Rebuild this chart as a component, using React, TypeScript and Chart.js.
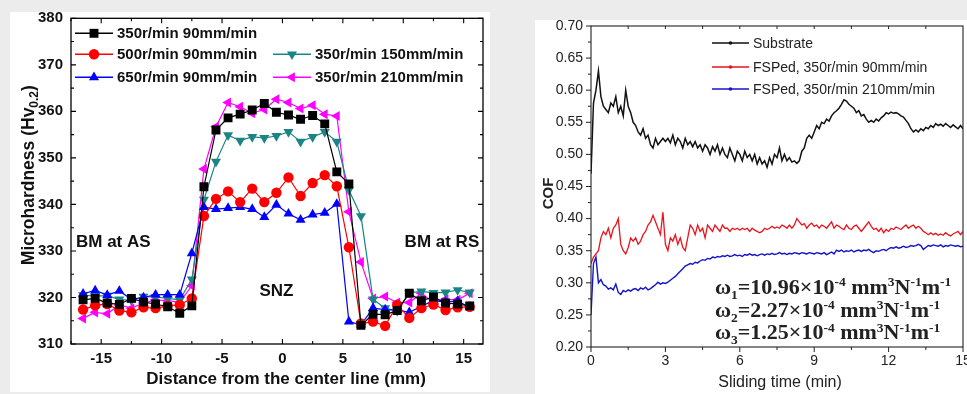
import React, { useEffect, useRef } from "react";
import { Chart, registerables } from "chart.js";

Chart.register(...registerables);

// ---------------- Left panel: microhardness profile ----------------
const POSITIONS_MM = [
  -16.5, -15.5, -14.5, -13.5, -12.5, -11.5, -10.5, -9.5, -8.5, -7.5, -6.5,
  -5.5, -4.5, -3.5, -2.5, -1.5, -0.5, 0.5, 1.5, 2.5, 3.5, 4.5,
  5.5, 6.5, 7.5, 8.5, 9.5, 10.5, 11.5, 12.5, 13.5, 14.5, 15.5,
];
const HV_350_90 = [
  319.5, 319.8, 318.8, 318.5, 319.8, 319.0, 318.6, 318.0, 316.6, 318.2, 343.8,
  356.0, 358.6, 359.4, 360.3, 361.7, 359.8, 359.2, 358.3, 359.1, 357.3, 347.0,
  344.4, 314.0, 316.4, 316.3, 317.2, 320.9, 319.3, 320.1, 318.8, 318.6, 318.2,
];
const HV_500_90 = [
  317.4, 318.3, 318.6, 317.2, 316.8, 317.9, 317.7, 318.2, 318.4, 319.8, 337.5,
  341.2, 342.8, 340.5, 343.4, 340.5, 342.5, 345.8, 341.8, 344.6, 346.3, 343.9,
  330.8, 314.4, 314.8, 313.9, 318.4, 315.6, 317.7, 318.5, 317.3, 317.9, 318.0,
];
const HV_650_90 = [
  320.8, 321.5, 320.5, 321.4, 319.6, 320.0, 320.6, 320.6, 320.6, 329.5, 339.4,
  339.0, 339.2, 339.4, 339.0, 337.3, 339.9, 338.0, 336.7, 337.8, 338.2, 340.1,
  314.8, 314.1, 317.7, 317.4, 317.3, 316.8, 318.1, 319.3, 319.0, 319.2, 317.9,
];
const HV_350_150 = [
  320.5, 320.3, 320.4, 319.6, 319.4, 320.2, 320.1, 319.8, 319.5, 323.9, 341.0,
  349.2, 354.9, 353.7, 354.5, 354.3, 354.7, 355.6, 353.5, 354.5, 355.6, 353.5,
  343.1, 337.5, 319.6, 317.7, 317.1, 321.0, 321.3, 321.0, 321.1, 321.6, 321.1,
];
const HV_350_210 = [
  315.5, 316.8, 316.5, 318.4, 317.7, 318.8, 319.5, 319.3, 319.0, 322.5, 347.6,
  356.7, 361.9, 361.0, 359.6, 360.4, 362.6, 361.9, 360.6, 361.3, 359.4, 359.0,
  338.4, 327.6, 319.8, 320.2, 318.9, 318.9, 320.9, 318.9, 319.6, 319.5, 320.9,
];
const HV_LABELS = [
  "350r/min 90mm/min",
  "500r/min 90mm/min",
  "650r/min 90mm/min",
  "350r/min 150mm/min",
  "350r/min 210mm/min",
];
const HV_TICKS_X = [-15, -10, -5, 0, 5, 10, 15];
const HV_TICKS_Y = [310, 320, 330, 340, 350, 360, 370, 380];

// ---------------- Right panel: coefficient of friction ----------------
const COF_STEP_MIN = 0.1;
const COF_SUBSTRATE = [
  0.47, 0.58, 0.6, 0.63, 0.59, 0.575, 0.57, 0.565, 0.58, 0.575,
  0.59, 0.565, 0.575, 0.56, 0.6, 0.575, 0.565, 0.55, 0.545, 0.535,
  0.53, 0.54, 0.525, 0.53, 0.515, 0.51, 0.525, 0.515, 0.52, 0.525,
  0.52, 0.525, 0.518, 0.53, 0.515, 0.525, 0.52, 0.51, 0.525, 0.515,
  0.52, 0.512, 0.52, 0.51, 0.515, 0.505, 0.515, 0.51, 0.5, 0.512,
  0.505, 0.515, 0.5, 0.51, 0.5, 0.495, 0.51, 0.5, 0.49, 0.505,
  0.5, 0.49, 0.505, 0.495, 0.5, 0.49, 0.5, 0.485, 0.495, 0.485,
  0.49, 0.48, 0.495, 0.485, 0.5, 0.495, 0.51, 0.49, 0.5, 0.49,
  0.495, 0.488, 0.49, 0.486, 0.49, 0.505, 0.51, 0.525, 0.53, 0.525,
  0.535, 0.545, 0.54, 0.55, 0.548, 0.555, 0.552, 0.56, 0.565, 0.568,
  0.572, 0.578, 0.585, 0.583, 0.578, 0.575, 0.572, 0.565, 0.568, 0.56,
  0.562, 0.555, 0.55, 0.553, 0.55, 0.555, 0.552, 0.557, 0.56, 0.565,
  0.563, 0.566, 0.564, 0.565, 0.563, 0.56, 0.558, 0.553, 0.548, 0.54,
  0.535, 0.538, 0.535, 0.54, 0.537, 0.542, 0.54, 0.545, 0.542, 0.548,
  0.545, 0.547, 0.544, 0.548, 0.545, 0.542, 0.546, 0.543, 0.54, 0.545,
  0.54,
];
const COF_350_90 = [
  0.33, 0.34, 0.345, 0.35, 0.37, 0.38, 0.375, 0.385, 0.37, 0.385,
  0.39, 0.4, 0.36, 0.35, 0.345, 0.355, 0.37, 0.365, 0.37, 0.36,
  0.365, 0.375, 0.38, 0.39, 0.395, 0.405, 0.395, 0.385, 0.375, 0.41,
  0.36, 0.35, 0.37, 0.365, 0.375, 0.36, 0.37, 0.355, 0.35, 0.37,
  0.39, 0.385, 0.375, 0.39, 0.38, 0.385, 0.37, 0.39, 0.385, 0.38,
  0.39, 0.385, 0.38, 0.39, 0.385, 0.385, 0.38, 0.385, 0.383, 0.385,
  0.382, 0.385, 0.383, 0.385, 0.38, 0.385, 0.382, 0.38, 0.378, 0.38,
  0.385, 0.383, 0.385, 0.388, 0.385, 0.387, 0.385, 0.39, 0.388, 0.385,
  0.39, 0.385, 0.39, 0.4, 0.395, 0.39, 0.392, 0.385, 0.39, 0.393,
  0.388, 0.39, 0.385, 0.39, 0.388, 0.385, 0.39, 0.395, 0.385, 0.39,
  0.388, 0.385, 0.383, 0.39, 0.385, 0.383, 0.388, 0.39, 0.385, 0.38,
  0.385, 0.39, 0.395, 0.388, 0.383, 0.385, 0.38, 0.385, 0.378, 0.383,
  0.38, 0.385, 0.383, 0.387, 0.385, 0.383, 0.387, 0.39, 0.385, 0.388,
  0.39, 0.385, 0.388, 0.385, 0.38, 0.378, 0.375, 0.378, 0.375, 0.377,
  0.374, 0.376, 0.374, 0.378, 0.375, 0.373, 0.376, 0.378, 0.38, 0.375,
  0.38,
];
const COF_350_210 = [
  0.25, 0.33, 0.34, 0.3, 0.305, 0.297, 0.295, 0.29, 0.292, 0.289,
  0.298, 0.285, 0.282, 0.288, 0.286, 0.289, 0.287, 0.29, 0.291, 0.288,
  0.292, 0.29, 0.293, 0.289, 0.291, 0.294, 0.297, 0.301, 0.298, 0.3,
  0.299, 0.301, 0.304, 0.307, 0.31, 0.314, 0.318, 0.322, 0.326, 0.328,
  0.33, 0.329, 0.332, 0.331, 0.334, 0.336, 0.335, 0.338, 0.337, 0.34,
  0.339, 0.341, 0.34, 0.342, 0.341, 0.343, 0.341, 0.342, 0.344, 0.342,
  0.343, 0.341, 0.344, 0.343, 0.345, 0.343, 0.344, 0.342, 0.344, 0.345,
  0.343, 0.345, 0.344, 0.346, 0.344, 0.345, 0.347, 0.345, 0.346, 0.344,
  0.346, 0.345, 0.347, 0.346, 0.345, 0.347, 0.346, 0.345, 0.347, 0.346,
  0.345, 0.347, 0.346, 0.345, 0.347, 0.344, 0.346, 0.348, 0.345, 0.351,
  0.349, 0.351, 0.348, 0.35, 0.349, 0.351, 0.348, 0.35, 0.351, 0.349,
  0.351, 0.35, 0.352, 0.349, 0.347, 0.35, 0.349, 0.351, 0.352, 0.35,
  0.353, 0.355, 0.354, 0.356, 0.354, 0.355, 0.357, 0.355, 0.356, 0.358,
  0.357, 0.358, 0.36, 0.358, 0.352, 0.355, 0.358, 0.357, 0.359, 0.358,
  0.357, 0.359, 0.356, 0.358, 0.357, 0.359, 0.358, 0.357, 0.358, 0.356,
  0.357,
];
const COF_LABELS = ["Substrate", "FSPed, 350r/min 90mm/min", "FSPed, 350r/min 210mm/min"];
const COF_TICKS_X = [0, 3, 6, 9, 12, 15];
const COF_TICKS_Y = [0.2, 0.25, 0.3, 0.35, 0.4, 0.45, 0.5, 0.55, 0.6, 0.65, 0.7];
const WEAR_RATES = ["10.96", "2.27", "1.25"];

const SANS = '"Liberation Sans", Arial, sans-serif';
const SERIF = '"Liberation Serif", "Times New Roman", serif';

// ---------------- drawing helpers ----------------
function markerPath(ctx: any, style: string, rot: number, r: number, x: number, y: number) {
  ctx.beginPath();
  if (style === "rect") {
    const s = Math.SQRT1_2 * r;
    ctx.rect(x - s, y - s, 2 * s, 2 * s);
  } else if (style === "circle") {
    ctx.arc(x, y, r, 0, Math.PI * 2);
  } else {
    let rad = (rot * Math.PI) / 180;
    for (let k = 0; k < 3; k++) {
      ctx.lineTo(x + Math.sin(rad) * r, y - Math.cos(rad) * r);
      rad += (Math.PI * 2) / 3;
    }
    ctx.closePath();
  }
}

type Seg = { t: string; k?: "sub" | "sup" };
function drawRich(ctx: any, segs: Seg[], x: number, y: number, size: number, small: number, family: string, weight: string, align: "left" | "center") {
  ctx.textBaseline = "alphabetic";
  ctx.textAlign = "left";
  let w = 0;
  for (const s of segs) {
    ctx.font = `${weight} ${s.k ? small : size}px ${family}`;
    w += ctx.measureText(s.t).width;
  }
  let cx = align === "center" ? x - w / 2 : x;
  for (const s of segs) {
    ctx.font = `${weight} ${s.k ? small : size}px ${family}`;
    const dy = s.k === "sup" ? -size * 0.36 : s.k === "sub" ? size * 0.2 : 0;
    ctx.fillText(s.t, cx, y + dy);
    cx += ctx.measureText(s.t).width;
  }
}

function range(start: number, end: number, step: number) {
  const out: number[] = [];
  for (let v = start; v <= end + 1e-9; v += step) out.push(Math.round(v * 1000) / 1000);
  return out;
}

function tickMarks(ctx: any, ca: any, xs: any, ys: any, vals: { x: number[]; y: number[] }, len: number, sides: any) {
  ctx.beginPath();
  for (const v of vals.x) {
    const px = xs.getPixelForValue(v);
    if (px < ca.left - 0.5 || px > ca.right + 0.5) continue;
    if (sides.bottom) {
      ctx.moveTo(px, ca.bottom);
      ctx.lineTo(px, ca.bottom + (sides.bottom === "out" ? len : -len));
    }
    if (sides.top) {
      ctx.moveTo(px, ca.top);
      ctx.lineTo(px, ca.top + (sides.top === "out" ? -len : len));
    }
  }
  for (const v of vals.y) {
    const py = ys.getPixelForValue(v);
    if (py < ca.top - 0.5 || py > ca.bottom + 0.5) continue;
    if (sides.left) {
      ctx.moveTo(ca.left, py);
      ctx.lineTo(ca.left + (sides.left === "out" ? -len : len), py);
    }
    if (sides.right) {
      ctx.moveTo(ca.right, py);
      ctx.lineTo(ca.right + (sides.right === "out" ? len : -len), py);
    }
  }
  ctx.stroke();
}

// ---------------- Left chart ----------------
const HV_SERIES = [
  { values: HV_350_90, color: "#000000", style: "rect", rot: 0, r: 6.3, slot: [0, 0] },
  { values: HV_500_90, color: "#ff0000", style: "circle", rot: 0, r: 5.2, slot: [0, 1] },
  { values: HV_650_90, color: "#0000ff", style: "triangle", rot: 0, r: 5.8, slot: [0, 2] },
  { values: HV_350_150, color: "#1b8585", style: "triangle", rot: 180, r: 5.8, slot: [1, 1] },
  { values: HV_350_210, color: "#ff00ff", style: "triangle", rot: 270, r: 5.8, slot: [1, 2] },
];

function HardnessChart() {
  const ref = useRef<HTMLCanvasElement>(null);
  useEffect(() => {
    if (!ref.current) return;
    const decor = {
      id: "hvDecor",
      afterDraw(chart: any) {
        const { ctx, chartArea: ca } = chart;
        const xs = chart.scales.x;
        const ys = chart.scales.y;
        ctx.save();
        ctx.strokeStyle = "#000";
        ctx.lineWidth = 1.3;
        ctx.strokeRect(ca.left, ca.top, ca.right - ca.left, ca.bottom - ca.top);
        ctx.lineWidth = 1.1;
        const all = { bottom: "in", top: "in", left: "in", right: "in" };
        tickMarks(ctx, ca, xs, ys, { x: HV_TICKS_X, y: HV_TICKS_Y }, 5, all);
        tickMarks(ctx, ca, xs, ys, { x: range(-17.5, 17.5, 5), y: range(315, 375, 10) }, 3, all);

        // legend
        const colX = [ca.left + 4, ca.left + 202];
        const rowY = [ca.top + 15, ca.top + 36, ca.top + 59];
        HV_SERIES.forEach((s, i) => {
          const x0 = colX[s.slot[0]];
          const y0 = rowY[s.slot[1]];
          ctx.strokeStyle = s.color;
          ctx.lineWidth = 1.4;
          ctx.beginPath();
          ctx.moveTo(x0, y0);
          ctx.lineTo(x0 + 38, y0);
          ctx.stroke();
          ctx.fillStyle = s.color;
          markerPath(ctx, s.style, s.rot, s.r, x0 + 19, y0);
          ctx.fill();
          ctx.fillStyle = "#111";
          ctx.font = `bold 15px ${SANS}`;
          ctx.textAlign = "left";
          ctx.textBaseline = "middle";
          ctx.fillText(HV_LABELS[i], x0 + 42, y0 + 1);
        });

        // annotations
        ctx.fillStyle = "#111";
        ctx.font = `bold 17px ${SANS}`;
        ctx.textAlign = "center";
        ctx.textBaseline = "middle";
        ctx.fillText("BM at AS", xs.getPixelForValue(-14), ys.getPixelForValue(331.9));
        ctx.fillText("BM at RS", xs.getPixelForValue(13.2), ys.getPixelForValue(331.9));
        ctx.fillText("SNZ", xs.getPixelForValue(-0.5), ys.getPixelForValue(321.4));

        // axis titles
        ctx.fillText("Distance from the center line (mm)", (ca.left + ca.right) / 2 + 9, ca.bottom + 35);
        ctx.save();
        ctx.translate(ca.left - 43, (ca.top + ca.bottom) / 2 - 6);
        ctx.rotate(-Math.PI / 2);
        drawRich(ctx, [{ t: "Microhardness (Hv" }, { t: "0.2", k: "sub" }, { t: ")" }], 0, 6, 17.5, 12, SANS, "bold", "center");
        ctx.restore();
        ctx.restore();
      },
    };
    const chart = new Chart(ref.current, {
      type: "line",
      data: {
        datasets: HV_SERIES.map((s, i) => ({
          label: HV_LABELS[i],
          data: POSITIONS_MM.map((x, j) => ({ x, y: s.values[j] })),
          borderColor: s.color,
          backgroundColor: s.color,
          pointBackgroundColor: s.color,
          pointBorderColor: s.color,
          pointBorderWidth: 0,
          pointStyle: s.style as any,
          pointRotation: s.rot,
          pointRadius: s.r,
          borderWidth: 1.2,
          tension: 0,
        })),
      },
      options: {
        animation: false,
        responsive: false,
        devicePixelRatio: 1,
        layout: { padding: { top: 6, right: 7, left: 0, bottom: 0 } },
        plugins: { legend: { display: false }, tooltip: { enabled: false } },
        scales: {
          x: {
            type: "linear",
            min: -17.5,
            max: 16.6,
            grid: { display: false, drawTicks: false },
            border: { display: false },
            ticks: {
              autoSkip: false,
              maxRotation: 0,
              padding: 6,
              color: "#111",
              font: { family: SANS, size: 15, weight: "bold" },
              callback: (v: any) => String(v),
            },
            afterBuildTicks: (s: any) => {
              s.ticks = HV_TICKS_X.map((v) => ({ value: v }));
            },
            afterFit: (s: any) => {
              s.height = 48;
              s.paddingLeft = 0;
              s.paddingRight = 0;
            },
          },
          y: {
            type: "linear",
            min: 310,
            max: 380,
            grid: { display: false, drawTicks: false },
            border: { display: false },
            ticks: {
              autoSkip: false,
              padding: 8,
              color: "#111",
              font: { family: SANS, size: 15, weight: "bold" },
              callback: (v: any) => String(v),
            },
            afterBuildTicks: (s: any) => {
              s.ticks = HV_TICKS_Y.map((v) => ({ value: v }));
            },
            afterFit: (s: any) => {
              s.width = 61;
              s.paddingTop = 0;
              s.paddingBottom = 0;
            },
          },
        },
      } as any,
      plugins: [decor],
    });
    return () => chart.destroy();
  }, []);
  return (
    <canvas
      ref={ref}
      width={480}
      height={380}
      style={{ position: "absolute", left: 10, top: 12, width: 480, height: 380, background: "#ffffff" }}
    />
  );
}

// ---------------- Right chart ----------------
const COF_SERIES = [
  { values: COF_SUBSTRATE, color: "#111111", width: 1.5 },
  { values: COF_350_90, color: "#e8141c", width: 1.3 },
  { values: COF_350_210, color: "#1414c8", width: 1.4 },
];

function CofChart() {
  const ref = useRef<HTMLCanvasElement>(null);
  useEffect(() => {
    if (!ref.current) return;
    const decor = {
      id: "cofDecor",
      afterDraw(chart: any) {
        const { ctx, chartArea: ca } = chart;
        const xs = chart.scales.x;
        const ys = chart.scales.y;
        ctx.save();
        ctx.strokeStyle = "#222";
        ctx.lineWidth = 1.1;
        ctx.strokeRect(ca.left, ca.top, ca.right - ca.left, ca.bottom - ca.top);
        ctx.lineWidth = 1;
        tickMarks(ctx, ca, xs, ys, { x: COF_TICKS_X, y: COF_TICKS_Y }, 5, { bottom: "out", left: "out" });
        tickMarks(ctx, ca, xs, ys, { x: range(1.5, 13.5, 3), y: range(0.225, 0.675, 0.05) }, 3, { bottom: "out", left: "out" });
        tickMarks(ctx, ca, xs, ys, { x: range(1.5, 13.5, 1.5), y: [] }, 3, { top: "in" });

        // legend
        const rows = [ca.top + 17, ca.top + 41, ca.top + 63];
        COF_SERIES.forEach((s, i) => {
          const x0 = ca.left + 121;
          const y0 = rows[i];
          ctx.strokeStyle = s.color;
          ctx.lineWidth = 1.3;
          ctx.beginPath();
          ctx.moveTo(x0, y0);
          ctx.lineTo(x0 + 37, y0);
          ctx.stroke();
          ctx.fillStyle = s.color;
          ctx.beginPath();
          ctx.arc(x0 + 18.5, y0, 1.8, 0, Math.PI * 2);
          ctx.fill();
          ctx.fillStyle = "#222";
          ctx.font = `14px ${SANS}`;
          ctx.textAlign = "left";
          ctx.textBaseline = "middle";
          ctx.fillText(COF_LABELS[i], x0 + 41, y0 + 1);
        });

        // wear rate annotations
        ctx.fillStyle = "#222";
        const rowVals = [0.293, 0.257, 0.2226];
        WEAR_RATES.forEach((rate, i) => {
          drawRich(
            ctx,
            [
              { t: "ω" },
              { t: String(i + 1), k: "sub" },
              { t: "=" + rate + "×10" },
              { t: "-4", k: "sup" },
              { t: " mm" },
              { t: "3", k: "sup" },
              { t: "N" },
              { t: "-1", k: "sup" },
              { t: "m" },
              { t: "-1", k: "sup" },
            ],
            xs.getPixelForValue(5.0),
            ys.getPixelForValue(rowVals[i]) + 7,
            22,
            13.5,
            SERIF,
            "bold",
            "left"
          );
        });

        // axis titles
        ctx.fillStyle = "#222";
        ctx.font = `16px ${SANS}`;
        ctx.textAlign = "center";
        ctx.textBaseline = "middle";
        ctx.fillText("Sliding time (min)", (ca.left + ca.right) / 2 + 3, ca.bottom + 36);
        ctx.save();
        ctx.translate(ca.left - 42, (ca.top + ca.bottom) / 2 + 7);
        ctx.rotate(-Math.PI / 2);
        ctx.font = `bold 15px ${SANS}`;
        ctx.fillText("COF", 0, 0);
        ctx.restore();
        ctx.restore();
      },
    };
    const chart = new Chart(ref.current, {
      type: "line",
      data: {
        datasets: COF_SERIES.map((s, i) => ({
          label: COF_LABELS[i],
          data: s.values.map((v, j) => ({ x: j * COF_STEP_MIN, y: v })),
          borderColor: s.color,
          backgroundColor: s.color,
          borderWidth: s.width,
          pointRadius: 0,
          tension: 0,
        })),
      },
      options: {
        animation: false,
        responsive: false,
        devicePixelRatio: 1,
        layout: { padding: { top: 6, right: 4, left: 0, bottom: 0 } },
        plugins: { legend: { display: false }, tooltip: { enabled: false } },
        scales: {
          x: {
            type: "linear",
            min: 0,
            max: 15,
            grid: { display: false, drawTicks: false },
            border: { display: false },
            ticks: {
              autoSkip: false,
              maxRotation: 0,
              padding: 6,
              color: "#222",
              font: { family: SANS, size: 14 },
              callback: (v: any) => String(v),
            },
            afterBuildTicks: (s: any) => {
              s.ticks = COF_TICKS_X.map((v) => ({ value: v }));
            },
            afterFit: (s: any) => {
              s.height = 47;
              s.paddingLeft = 0;
              s.paddingRight = 0;
            },
          },
          y: {
            type: "linear",
            min: 0.2,
            max: 0.7,
            grid: { display: false, drawTicks: false },
            border: { display: false },
            ticks: {
              autoSkip: false,
              padding: 8,
              color: "#222",
              font: { family: SANS, size: 14 },
              callback: (v: any) => Number(v).toFixed(2),
            },
            afterBuildTicks: (s: any) => {
              s.ticks = COF_TICKS_Y.map((v) => ({ value: v }));
            },
            afterFit: (s: any) => {
              s.width = 56;
              s.paddingTop = 0;
              s.paddingBottom = 0;
            },
          },
        },
      } as any,
      plugins: [decor],
    });
    return () => chart.destroy();
  }, []);
  return (
    <canvas
      ref={ref}
      width={432}
      height={374}
      style={{ position: "absolute", left: 535, top: 20, width: 432, height: 374, background: "#ffffff" }}
    />
  );
}

export default function App() {
  return (
    <div
      style={{
        position: "fixed",
        left: 0,
        top: 0,
        width: 967,
        height: 394,
        background: "#ececec",
        overflow: "hidden",
      }}
    >
      <HardnessChart />
      <CofChart />
    </div>
  );
}
